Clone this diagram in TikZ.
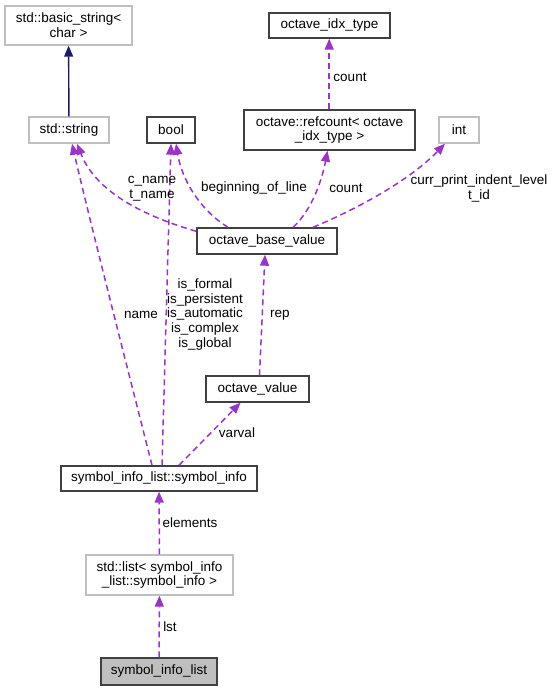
\documentclass[tikz,border=0pt]{standalone}
\usepackage{fontspec}
\setmainfont{Liberation Sans}
\usetikzlibrary{arrows.meta}
\definecolor{edgepurple}{HTML}{9A32CD}
\definecolor{navyedge}{HTML}{191970}
\definecolor{graybox}{HTML}{BFBFBF}
\definecolor{darkbox}{HTML}{404040}
\begin{document}
\begin{tikzpicture}[x=1pt,y=-1pt,
  font=\fontsize{13.5}{14.8}\selectfont,
  cls/.style={draw=darkbox,line width=1.4pt,inner sep=0pt,align=center,fill=white},
  gcls/.style={draw=graybox,line width=1.4pt,inner sep=0pt,align=center,fill=white},
  usage/.style={draw=edgepurple,line width=1.5pt,dash pattern=on 6pt off 4pt,
    -{Triangle[length=11pt,width=9pt,fill=edgepurple]}},
  inh/.style={draw=navyedge,line width=1.4pt,-{Triangle[length=11pt,width=9pt,fill=navyedge]}},
  lbl/.style={inner sep=0pt,align=center}]
\useasboundingbox (0,0) rectangle (553,691);
% nodes
\node[gcls,minimum width=127pt,minimum height=39pt] (bs) at (68.5,25.5) {std::basic\_string<\\char >};
\node[gcls,minimum width=80pt,minimum height=26pt] (str) at (69,130) {std::string};
\node[cls,minimum width=48pt,minimum height=26pt] (bool) at (171,130) {bool};
\node[cls,minimum width=121pt,minimum height=25pt] (idx) at (329.5,25.5) {octave\_idx\_type};
\node[cls,minimum width=171pt,minimum height=40pt] (rc) at (329.5,130) {octave::refcount< octave\\\_idx\_type >};
\node[gcls,minimum width=40pt,minimum height=26pt] (int) at (459,130) {int};
\node[cls,minimum width=140pt,minimum height=26pt] (obv) at (267,241) {octave\_base\_value};
\node[cls,minimum width=103pt,minimum height=26pt] (ov) at (257.5,389) {octave\_value};
\node[cls,minimum width=196pt,minimum height=25pt] (si) at (159,478.5) {symbol\_info\_list::symbol\_info};
\node[gcls,minimum width=147pt,minimum height=40pt] (lst) at (159.5,575) {std::list< symbol\_info\\\_list::symbol\_info >};
\node[cls,fill=graybox,minimum width=116pt,minimum height=27pt] (sil) at (159,671.5) {symbol\_info\_list};
% edges
\draw[inh] (str) -- (bs);
\draw[usage] ([xshift=-7pt]si.north) .. controls (128,370) and (92,230) .. ([xshift=3pt]str.south);
\draw[usage] ([yshift=-4pt]obv.north west) .. controls (140,215) and (95,190) .. ([xshift=8pt]str.south);
\draw[usage] ([xshift=3pt]si.north) -- (bool.south);
\draw[usage] ([xshift=-39pt]obv.north) .. controls (200,210) and (182,180) .. ([xshift=5pt]bool.south);
\draw[usage] ([xshift=-0.3pt]rc.north) -- ([xshift=-0.3pt]idx.south);
\draw[usage] ([xshift=26pt]obv.north) .. controls (312,210) and (322,180) .. ([xshift=-2pt]rc.south);
\draw[usage] ([xshift=46pt]obv.north) .. controls (345,214) and (405,185) .. ([xshift=-14pt]int.south);
\draw[usage] ([xshift=2pt]ov.north) -- ([xshift=-2pt]obv.south);
\draw[usage] ([xshift=20pt]si.north) -- ([xshift=-17pt]ov.south);
\draw[usage] (lst) -- (si);
\draw[usage] (sil) -- (lst);
% labels
\node[lbl] (lname) at (141,315) {name};
\node[lbl] (lcname) at (152,188.5) {c\_name\\t\_name};
\node[lbl] (lis) at (205,314.5) {is\_formal\\is\_persistent\\is\_automatic\\is\_complex\\is\_global};
\node[lbl] (lbol) at (254,188) {beginning\_of\_line};
\node[lbl] (lcnt1) at (350,77) {count};
\node[lbl] (lcnt2) at (346,188) {count};
\node[lbl] (lcur) at (479,188.5) {curr\_print\_indent\_level\\t\_id};
\node[lbl] (lrep) at (280,315) {rep};
\node[lbl] (lvar) at (237,433) {varval};
\node[lbl] (lel) at (190,523) {elements};
\node[lbl] (llst) at (170,627) {lst};
\end{tikzpicture}
\end{document}
